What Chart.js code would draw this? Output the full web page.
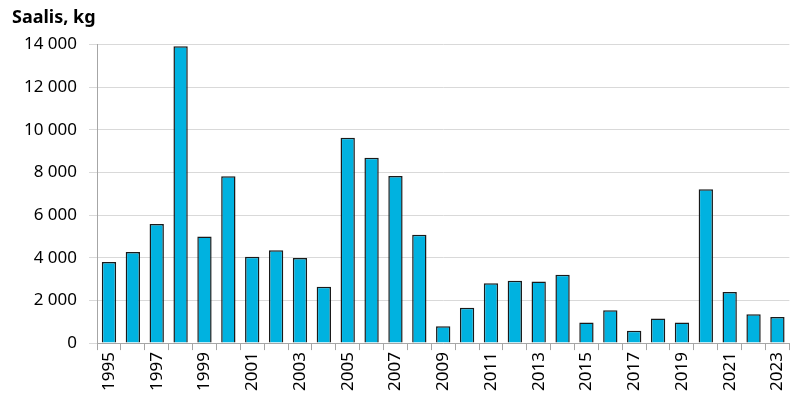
<!DOCTYPE html>
<html>
<head>
<meta charset="utf-8">
<script src="https://cdn.jsdelivr.net/npm/chart.js@4"></script>
<style>
  html, body { margin: 0; padding: 0; background: #fff; }
  #wrap { width: 800px; height: 405px; }
</style>
</head>
<body>
<div id="wrap"><canvas id="chart"></canvas></div>
<script>
const years = ["1995", "1996", "1997", "1998", "1999", "2000", "2001", "2002", "2003", "2004",
  "2005", "2006", "2007", "2008", "2009", "2010", "2011", "2012", "2013", "2014",
  "2015", "2016", "2017", "2018", "2019", "2020", "2021", "2022", "2023"];
const catchKg = [3800, 4270, 5590, 13920, 5000, 7820, 4050, 4350, 3990, 2640,
  9630, 8690, 7840, 5080, 790, 1660, 2810, 2920, 2890, 3210,
  970, 1540, 580, 1150, 970, 7210, 2400, 1350, 1230];
const titleText = "Saalis, kg";

const fontFamily = "'Noto Sans', 'Open Sans', sans-serif";

function spaced(v) {
  return v.toString().replace(/\B(?=(\d{3})+(?!\d))/g, " ");
}

new Chart(document.getElementById("chart").getContext("2d"), {
  type: "bar",
  data: {
    labels: years,
    datasets: [{
      data: catchKg,
      backgroundColor: "#00b2e0",
      borderColor: "#1a1a1a",
      borderWidth: 1.5,
      barPercentage: 0.6,
      categoryPercentage: 1
    }]
  },
  options: {
    responsive: true,
    maintainAspectRatio: false,
    animation: false,
    layout: { padding: { left: 12, right: 10, top: 0, bottom: 12 } },
    plugins: {
      legend: { display: false },
      tooltip: { enabled: false },
      title: {
        display: true,
        text: titleText,
        align: "start",
        color: "#000",
        font: { family: fontFamily, size: 18, weight: "bold" },
        padding: { top: 7, bottom: 16 }
      }
    },
    scales: {
      x: {
        grid: {
          offset: true,
          drawOnChartArea: false,
          drawTicks: true,
          tickLength: 7,
          color: "#a6a6a6"
        },
        border: { color: "#a6a6a6" },
        ticks: {
          autoSkip: false,
          minRotation: 90,
          maxRotation: 90,
          color: "#000",
          font: { family: fontFamily, size: 17 },
          padding: 2,
          callback: function (val, i) {
            return i % 2 === 0 ? years[i] : "";
          }
        }
      },
      y: {
        min: 0,
        max: 14000,
        ticks: {
          stepSize: 2000,
          color: "#000",
          font: { family: fontFamily, size: 17 },
          padding: 12,
          callback: function (v) { return spaced(v); }
        },
        grid: { color: "#d9d9d9", tickLength: 8 },
        border: { color: "#a6a6a6" }
      }
    }
  }
});
</script>
</body>
</html>
